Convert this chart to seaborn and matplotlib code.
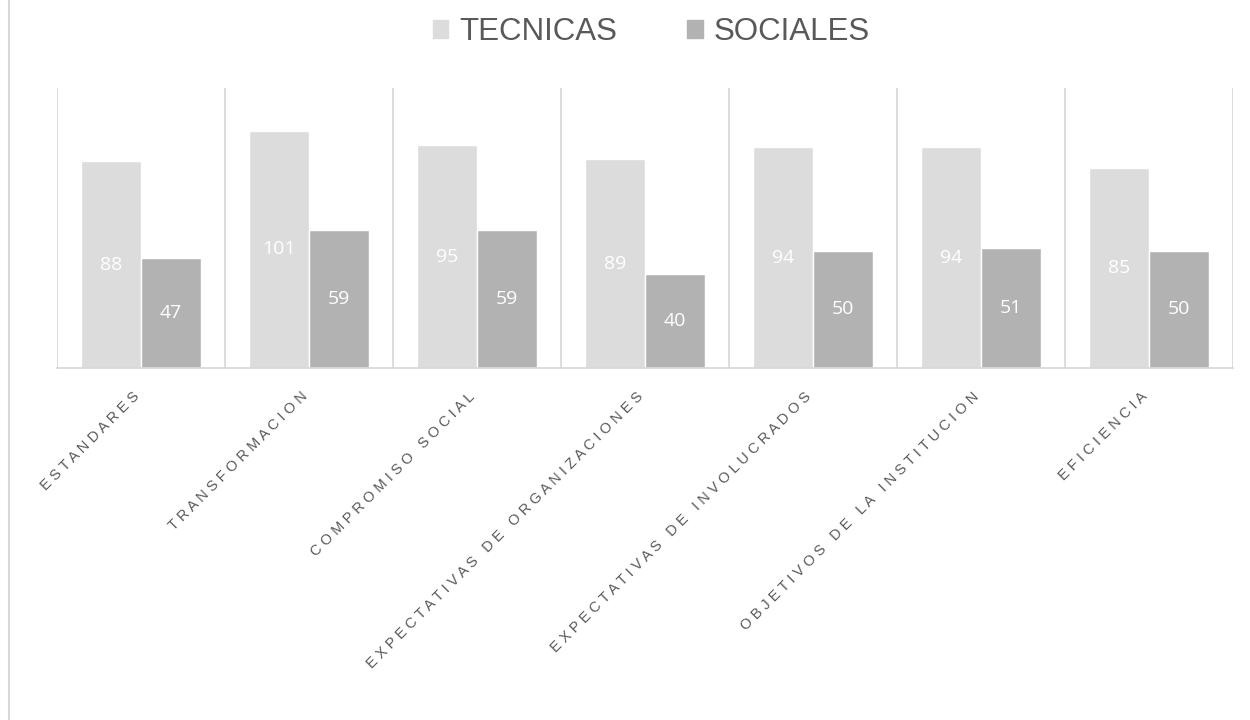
import matplotlib
matplotlib.use("Agg")
import matplotlib.pyplot as plt
import matplotlib.transforms as mtransforms
from matplotlib.lines import Line2D
import pandas as pd
import seaborn as sns

# data
categorias = ['ESTANDARES', 'TRANSFORMACION', 'COMPROMISO SOCIAL',
              'EXPECTATIVAS DE ORGANIZACIONES', 'EXPECTATIVAS DE INVOLUCRADOS',
              'OBJETIVOS DE LA INSTITUCION', 'EFICIENCIA']
tecnicas = [88, 101, 95, 89, 94, 94, 85]
sociales = [47, 59, 59, 40, 50, 51, 50]
series = ['TECNICAS', 'SOCIALES']

df = pd.DataFrame({
    'categoria': categorias * 2,
    'valor': tecnicas + sociales,
    'tipo': [series[0]] * len(categorias) + [series[1]] * len(categorias),
})

sns.set_style('white')
plt.rcParams['font.family'] = ['Liberation Sans', 'DejaVu Sans']

fig = plt.figure(figsize=(12.5, 7.2), dpi=100)
ax = fig.add_axes([0.0456, 0.4889, 0.9408, 0.3889])

sns.barplot(data=df, x='categoria', y='valor', hue='tipo', order=categorias,
            hue_order=series, palette=['#DCDCDC', '#B2B2B2'], saturation=1,
            width=0.714, gap=0, ax=ax, legend=False)

for cont in ax.containers:
    ax.bar_label(cont, label_type='center', color='white', fontsize=14,
                 family=['Open Sans', 'DejaVu Sans'])

ax.set_xlim(-0.5, len(categorias) - 0.5)
ax.set_ylim(0, 119.3)
for k in range(len(categorias) + 1):
    ax.axvline(k - 0.5, color='#D9D9D9', lw=1.3, zorder=0)

for s in ['top', 'left', 'right']:
    ax.spines[s].set_visible(False)
ax.spines['bottom'].set_color('#D9D9D9')
ax.spines['bottom'].set_linewidth(1.3)
ax.set_yticks([])
ax.set_xlabel('')
ax.set_ylabel('')

# spaced-out tick labels
spaced = ['   '.join(' '.join(w) for w in c.split(' ')) for c in categorias]
ax.set_xticks(range(len(categorias)))
ax.set_xticklabels(spaced, rotation=45, ha='right', va='top',
                   rotation_mode='anchor', fontsize=10.5, color='#595959')
ax.tick_params(axis='x', length=0, pad=14)
shift = mtransforms.ScaledTranslation(-9 / 100, -2 / 100, fig.dpi_scale_trans)
for lbl in ax.get_xticklabels():
    lbl.set_transform(lbl.get_transform() + shift)

handles = [plt.Rectangle((0, 0), 1, 1, color=c) for c in ['#DCDCDC', '#B2B2B2']]
fig.legend(handles, series, loc='center', bbox_to_anchor=(0.521, 0.955),
           ncol=2, frameon=False, fontsize=22.5, labelcolor='#595959',
           handlelength=0.5, handleheight=0.5, handletextpad=0.35,
           columnspacing=2.25)

fig.add_artist(Line2D([0.0072, 0.0072], [0, 1], color='#D9D9D9', lw=1.5))

fig.savefig('out.png', dpi=100)
